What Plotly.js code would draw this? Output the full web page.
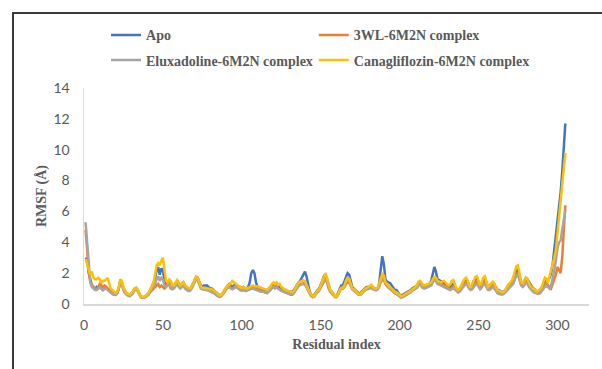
<!DOCTYPE html>
<html>
<head>
<meta charset="utf-8">
<script src="https://cdn.plot.ly/plotly-3.0.1.min.js"></script>
<style>
html,body{margin:0;padding:0;background:#fff;}
#chart{width:602px;height:369px;}
</style>
</head>
<body>
<div id="chart"></div>
<script>
// RMSF per residue (Å), residues 1..305
const seriesNames = ["Apo", "3WL-6M2N complex", "Eluxadoline-6M2N complex", "Canagliflozin-6M2N complex"];
const seriesColors = ["#4472C4", "#ED7D31", "#A5A5A5", "#FFC000"];
const xTicks = [0, 50, 100, 150, 200, 250, 300];
const yTicks = [0, 2, 4, 6, 8, 10, 12, 14];

const apo = [
3.0,2.9,2.0,1.5,1.2,1.1,1.0,1.1,1.0,1.1,1.0,0.9,1.0,1.1,1.0,0.9,0.8,0.7,0.7,0.6,
0.7,1.0,1.5,1.4,1.0,0.8,0.7,0.6,0.6,0.7,0.8,1.0,1.05,0.9,0.7,0.5,0.45,0.45,0.5,0.6,
0.7,0.9,1.1,1.3,1.6,2.2,2.4,1.9,2.3,2.2,1.5,1.3,1.4,1.5,1.3,1.1,1.2,1.4,1.5,1.3,
1.2,1.3,1.4,1.2,1.1,1.0,1.0,1.1,1.3,1.6,1.75,1.7,1.4,1.2,1.1,1.2,1.2,1.2,1.1,1.0,
1.0,0.9,0.8,0.7,0.6,0.55,0.6,0.7,0.9,1.1,1.2,1.3,1.2,1.1,1.2,1.3,1.2,1.1,1.1,1.0,
1.1,1.0,1.0,1.1,1.4,2.0,2.2,2.0,1.4,1.1,1.1,1.0,1.0,0.9,0.9,0.9,1.0,1.1,1.2,1.2,
1.1,1.2,1.1,1.1,1.0,1.0,0.9,0.9,0.8,0.8,0.8,0.8,0.9,1.1,1.3,1.4,1.5,1.7,2.0,2.1,
1.8,1.2,0.8,0.6,0.5,0.6,0.8,0.9,1.0,1.2,1.5,1.8,1.9,1.6,1.2,0.9,0.8,0.6,0.5,0.5,
0.7,1.0,1.2,1.2,1.5,1.8,2.0,1.9,1.5,1.1,1.0,0.9,0.8,0.7,0.7,0.8,0.95,1.0,1.1,1.1,
1.1,1.2,1.1,1.0,1.0,1.0,1.3,2.2,3.1,2.6,1.6,1.45,1.4,1.35,1.2,1.0,0.9,0.9,0.7,0.6,
0.55,0.6,0.65,0.7,0.75,0.8,0.9,1.0,1.05,1.1,1.2,1.4,1.45,1.3,1.2,1.2,1.25,1.3,1.3,1.5,
2.0,2.4,2.1,1.6,1.55,1.5,1.4,1.35,1.35,1.3,1.2,1.1,1.2,1.3,1.1,1.0,0.9,1.0,1.2,1.4,
1.5,1.6,1.5,1.2,1.05,1.2,1.5,1.6,1.7,1.4,1.2,1.3,1.6,1.7,1.4,1.1,1.2,1.3,1.4,1.3,
1.1,0.9,0.9,0.8,0.8,0.8,0.9,1.1,1.25,1.3,1.4,1.6,1.9,2.2,2.2,1.8,1.4,1.3,1.5,1.7,
1.6,1.4,1.2,1.1,1.0,0.9,0.8,0.8,0.9,1.05,1.2,1.5,1.6,1.5,1.7,2.0,2.6,3.5,4.4,5.2,
6.2,7.2,8.5,10.0,11.7
];

const wl3 = [
4.8,3.4,2.2,1.4,1.2,1.1,1.0,1.0,1.1,1.3,1.2,1.1,1.2,1.1,1.0,0.9,0.8,0.7,0.6,0.6,
0.7,1.0,1.45,1.3,0.9,0.7,0.6,0.55,0.55,0.6,0.7,0.9,1.0,0.85,0.6,0.45,0.4,0.4,0.45,0.55,
0.65,0.8,0.9,1.0,1.1,1.2,1.3,1.1,1.2,1.1,1.0,1.1,1.3,1.2,1.0,1.0,1.1,1.3,1.4,1.2,
1.1,1.2,1.3,1.1,1.0,0.9,0.9,1.0,1.2,1.5,1.65,1.6,1.3,1.1,1.0,1.0,1.0,1.0,0.95,0.9,
0.9,0.8,0.7,0.6,0.5,0.5,0.55,0.65,0.8,1.0,1.1,1.15,1.1,1.0,1.1,1.2,1.15,1.05,1.0,0.95,
1.0,0.95,0.9,0.95,1.0,1.1,1.1,1.05,1.0,0.95,0.9,0.85,0.8,0.75,0.7,0.7,0.8,0.9,1.1,1.2,
1.1,1.2,1.0,0.95,0.85,0.8,0.75,0.75,0.7,0.6,0.6,0.6,0.7,0.9,1.1,1.2,1.3,1.3,1.35,1.3,
1.1,0.9,0.7,0.55,0.45,0.5,0.7,0.8,0.9,1.1,1.3,1.5,1.6,1.4,1.0,0.8,0.7,0.55,0.45,0.45,
0.6,0.85,1.0,1.0,1.1,1.3,1.4,1.4,1.2,0.95,0.9,0.8,0.7,0.6,0.6,0.7,0.85,0.9,1.0,1.0,
1.05,1.1,1.0,0.95,0.9,0.95,1.1,1.4,1.6,1.55,1.3,1.2,1.1,1.0,0.9,0.75,0.7,0.7,0.6,0.5,
0.45,0.5,0.55,0.6,0.65,0.7,0.8,0.9,0.95,1.0,1.1,1.3,1.35,1.2,1.1,1.1,1.15,1.2,1.2,1.3,
1.45,1.55,1.5,1.35,1.3,1.3,1.25,1.2,1.2,1.15,1.05,0.95,1.05,1.15,1.0,0.9,0.8,0.9,1.05,1.2,
1.3,1.4,1.3,1.05,0.95,1.05,1.3,1.4,1.45,1.2,1.05,1.15,1.4,1.45,1.2,0.95,1.0,1.1,1.2,1.1,
0.95,0.8,0.75,0.7,0.65,0.7,0.8,0.95,1.1,1.15,1.25,1.4,1.7,1.9,2.0,1.6,1.25,1.15,1.3,1.5,
1.4,1.2,1.05,0.95,0.85,0.8,0.7,0.7,0.8,0.95,1.1,1.3,1.35,1.2,1.1,1.0,1.3,1.6,1.9,2.4,
2.2,2.0,3.0,4.8,6.4
];

const eluxadoline = [
5.3,4.0,2.4,1.4,1.1,1.0,0.9,0.9,1.0,1.1,1.0,0.9,1.0,1.0,0.9,0.8,0.7,0.65,0.6,0.6,
0.7,1.0,1.5,1.35,0.9,0.7,0.6,0.55,0.5,0.6,0.7,0.9,1.0,0.85,0.6,0.45,0.4,0.4,0.45,0.5,
0.6,0.8,0.95,1.1,1.3,1.6,1.8,1.5,1.7,1.6,1.2,1.1,1.2,1.3,1.1,0.95,1.0,1.2,1.3,1.1,
1.0,1.1,1.2,1.0,0.9,0.85,0.85,0.95,1.15,1.45,1.6,1.55,1.25,1.0,0.95,0.9,0.9,0.9,0.85,0.8,
0.8,0.75,0.65,0.55,0.5,0.45,0.5,0.6,0.75,0.95,1.05,1.1,1.0,0.95,1.0,1.1,1.05,0.95,0.9,0.85,
0.9,0.85,0.85,0.9,0.95,1.0,1.0,0.95,0.9,0.9,0.85,0.8,0.8,0.75,0.75,0.75,0.8,0.9,1.0,1.1,
1.0,1.1,1.0,0.9,0.85,0.8,0.75,0.7,0.7,0.65,0.65,0.65,0.75,0.9,1.05,1.15,1.25,1.3,1.3,1.25,
1.1,0.85,0.65,0.5,0.45,0.5,0.65,0.75,0.85,1.05,1.3,1.55,1.7,1.45,1.05,0.8,0.7,0.55,0.45,0.45,
0.6,0.85,1.0,1.0,1.15,1.4,1.6,1.55,1.25,0.95,0.85,0.75,0.65,0.6,0.6,0.65,0.8,0.9,0.95,0.95,
1.0,1.05,0.95,0.9,0.9,0.95,1.15,1.5,1.7,1.6,1.3,1.15,1.05,0.95,0.85,0.75,0.7,0.65,0.55,0.45,
0.4,0.45,0.5,0.55,0.6,0.7,0.75,0.85,0.9,0.95,1.05,1.2,1.25,1.1,1.0,1.0,1.05,1.1,1.1,1.2,
1.4,1.6,1.5,1.3,1.25,1.2,1.15,1.1,1.1,1.05,0.95,0.9,0.95,1.05,0.95,0.85,0.75,0.8,0.95,1.1,
1.2,1.3,1.2,1.0,0.9,0.95,1.15,1.25,1.3,1.1,0.95,1.05,1.25,1.3,1.1,0.9,0.9,1.0,1.1,1.0,
0.85,0.7,0.65,0.6,0.6,0.65,0.75,0.9,1.0,1.05,1.15,1.3,1.6,1.85,1.9,1.55,1.2,1.1,1.2,1.4,
1.3,1.1,0.95,0.85,0.75,0.7,0.65,0.65,0.7,0.85,0.95,1.1,1.2,1.1,1.0,1.2,1.6,2.2,2.8,3.6,
4.0,4.1,4.8,5.6,6.1
];

const canagliflozin = [
2.9,2.6,2.2,1.9,2.1,1.7,1.6,1.6,1.7,1.6,1.4,1.5,1.5,1.6,1.7,1.3,1.0,0.9,0.8,0.7,
0.8,1.1,1.6,1.5,1.1,0.85,0.7,0.65,0.6,0.7,0.8,1.0,1.05,0.95,0.7,0.5,0.45,0.45,0.5,0.6,
0.75,0.95,1.15,1.4,1.9,2.5,2.65,2.5,2.8,3.0,2.2,1.5,1.4,1.6,1.5,1.2,1.2,1.4,1.55,1.4,
1.2,1.3,1.4,1.2,1.1,1.05,1.0,1.1,1.3,1.55,1.75,1.7,1.4,1.15,1.05,1.05,1.0,1.0,1.0,0.95,
0.95,0.9,0.8,0.7,0.6,0.55,0.6,0.7,0.9,1.1,1.2,1.25,1.3,1.5,1.4,1.3,1.25,1.15,1.1,1.05,
1.1,1.05,1.0,1.05,1.1,1.2,1.2,1.15,1.15,1.15,1.1,1.05,1.0,0.95,0.9,0.9,1.0,1.1,1.3,1.4,
1.3,1.4,1.25,1.3,1.1,1.0,0.95,0.9,0.85,0.8,0.75,0.75,0.85,1.05,1.25,1.4,1.45,1.5,1.55,1.5,
1.3,1.0,0.75,0.6,0.5,0.55,0.75,0.85,0.95,1.2,1.5,1.8,2.0,1.7,1.2,0.9,0.8,0.6,0.5,0.5,
0.65,0.9,1.05,1.05,1.2,1.5,1.7,1.65,1.35,1.0,0.95,0.85,0.75,0.65,0.65,0.75,0.9,1.0,1.05,1.1,
1.2,1.25,1.1,1.0,1.0,1.05,1.3,1.7,1.95,1.85,1.4,1.3,1.2,1.1,1.0,0.85,0.8,0.75,0.65,0.55,
0.5,0.55,0.6,0.65,0.7,0.75,0.85,0.95,1.0,1.1,1.25,1.45,1.5,1.3,1.2,1.2,1.25,1.3,1.3,1.4,
1.6,1.75,1.7,1.5,1.45,1.4,1.45,1.5,1.4,1.3,1.2,1.25,1.5,1.55,1.2,1.0,0.9,1.0,1.2,1.45,
1.6,1.7,1.55,1.2,1.05,1.3,1.6,1.75,1.8,1.45,1.2,1.4,1.7,1.8,1.5,1.1,1.2,1.35,1.45,1.3,
1.1,0.9,0.85,0.8,0.75,0.8,0.9,1.1,1.25,1.35,1.5,1.75,2.1,2.45,2.5,2.0,1.45,1.35,1.5,1.7,
1.6,1.35,1.15,1.05,0.95,0.85,0.8,0.85,0.95,1.1,1.4,1.7,1.6,1.4,1.8,2.2,2.5,3.0,3.5,4.5,
5.8,6.8,7.8,8.8,9.8
];

const residues = apo.map((_, i) => i + 1);
const allSeries = [apo, wl3, eluxadoline, canagliflozin];

const legendOf = ["legend", "legend2", "legend", "legend2"];
const traces = allSeries.map((ys, k) => ({
  type: "scatter",
  mode: "lines",
  x: residues,
  y: ys,
  name: seriesNames[k],
  legend: legendOf[k],
  legendgroup: "g" + k,
  line: {color: seriesColors[k], width: 2.5},
  hoverinfo: "skip"
}));

const legendFont = {family: "Liberation Serif, Times New Roman, serif", size: 14, color: "#595959", weight: "bold"};
const tickFont = {family: "Lato, Carlito, Calibri, sans-serif", size: 14, color: "#595959"};
const titleFont = {family: "Liberation Serif, Times New Roman, serif", size: 14, color: "#595959", weight: "bold"};

const layout = {
  width: 602,
  height: 369,
  margin: {l: 84, r: 13, t: 88, b: 65},
  paper_bgcolor: "#ffffff",
  plot_bgcolor: "#ffffff",
  showlegend: true,
  legend: {
    x: 0.0436, y: 1.318, xanchor: "left", yanchor: "top",
    orientation: "v", font: legendFont, bgcolor: "rgba(0,0,0,0)",
    tracegroupgap: 4, itemwidth: 30
  },
  legend2: {
    x: 0.455, y: 1.318, xanchor: "left", yanchor: "top",
    orientation: "v", font: legendFont, bgcolor: "rgba(0,0,0,0)",
    tracegroupgap: 4, itemwidth: 30
  },
  xaxis: {
    range: [0, 320],
    tickvals: xTicks,
    ticktext: xTicks.map(String),
    showgrid: false, zeroline: false,
    showline: true, linecolor: "#D9D9D9", linewidth: 1.5,
    ticks: "", tickfont: tickFont, ticklabelstandoff: 8,
    title: {text: "Residual index", font: titleFont, standoff: 7}
  },
  yaxis: {
    range: [0, 14],
    tickvals: yTicks,
    ticktext: yTicks.map(String),
    showgrid: false, zeroline: false,
    showline: true, linecolor: "#D9D9D9", linewidth: 1.5,
    ticks: "", tickfont: tickFont, ticklabelstandoff: 10,
    title: {text: "RMSF (Å)", font: titleFont, standoff: 3}
  },
  shapes: [
    {type: "path", xref: "paper", yref: "paper",
     path: "M -0.1406,-0.35 L -0.1406,1.347 L 1.05,1.347",
     line: {color: "#3a3a3a", width: 2}}
  ]
};

Plotly.newPlot("chart", traces, layout, {displayModeBar: false, staticPlot: true});
</script>
</body>
</html>
